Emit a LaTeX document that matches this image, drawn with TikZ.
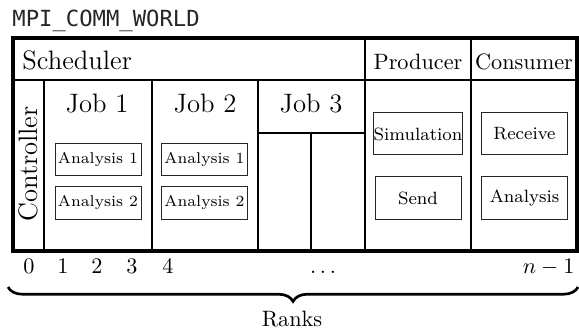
\documentclass[tikz,border=0pt]{standalone}
\usepackage{fontspec}
\newfontfamily\commfont{DejaVu Sans Mono}
\usetikzlibrary{decorations.pathreplacing}

\tikzset{
  outer/.style={line width=1.7pt},
  group/.style={line width=1.3pt},
  part/.style={line width=0.9pt},
  inner/.style={line width=0.5pt},
  task/.style={draw=black!85, line width=0.45pt, fill=white,
               minimum width=86*0.45pt, inner sep=0pt, align=center},
  smalltask/.style={task, minimum height=32*0.45pt, font=\scriptsize},
  bigtask/.style={task, minimum height=42*0.45pt, font=\footnotesize},
  rank/.style={anchor=base, inner sep=0pt},
}

\begin{document}
\begin{tikzpicture}[x=0.45pt, y=-0.45pt]
  \useasboundingbox (0,0) rectangle (579,331);

  % communicator name
  \node[anchor=base west, inner sep=0pt, font=\commfont, text=black!85] (comm) at (12,27) {MPI\_COMM\_WORLD};

  % internal dividers
  \draw[inner] (13,80) -- (577,80);
  \draw[part] (44,80) -- (44,251);
  \draw[part] (152,80) -- (152,251);
  \draw[part] (258,80) -- (258,251);
  \draw[inner] (258,133) -- (365,133);
  \draw[inner] (311,133) -- (311,251);
  \draw[group] (365,38) -- (365,251);
  \draw[group] (471,38) -- (471,251);

  % outer frame
  \draw[outer] (13,38) rectangle (577,251);

  % headings
  \node[anchor=base west, inner sep=0pt, font=\large] (sched) at (22,70) {Scheduler};
  \node[anchor=base, inner sep=0pt] (prod) at (418,70) {Producer};
  \node[anchor=base, inner sep=0pt] (cons) at (524,70) {Consumer};
  \node[rotate=90, inner sep=0pt, font=\large] (ctrl) at (28.5,164) {Controller};
  \node[anchor=base, inner sep=0pt, font=\large] (job1) at (97,113) {Job 1};
  \node[anchor=base, inner sep=0pt, font=\large] (job2) at (205,113) {Job 2};
  \node[anchor=base, inner sep=0pt, font=\large] (job3) at (311,113) {Job 3};

  % tasks
  \node[smalltask] (a11) at (98,160) {Analysis 1};
  \node[smalltask] (a12) at (98,203) {Analysis 2};
  \node[smalltask] (a21) at (204.5,160) {Analysis 1};
  \node[smalltask] (a22) at (204.5,203) {Analysis 2};
  \node[bigtask] (sim) at (418,134) {Simulation};
  \node[bigtask] (send) at (418,198) {Send};
  \node[bigtask] (recv) at (524.5,134) {Receive};
  \node[bigtask] (ana) at (524.5,198) {Analysis};

  % rank numbers
  \node[rank] (r0) at (29,273) {0};
  \node[rank] (r1) at (63,273) {1};
  \node[rank] (r2) at (97,273) {2};
  \node[rank] (r3) at (132,273) {3};
  \node[rank] (r4) at (168,273) {4};
  \node[rank] (rdots) at (323,273) {$\dots$};
  \node[anchor=base east, inner sep=0pt] (rlast) at (575,273) {$n-1$};

  % brace over all ranks
  \coordinate (bl) at (8,287);
  \coordinate (br) at (578,287);
  \draw[line width=1.2pt, decorate, decoration={brace, mirror, amplitude=6.5pt}] (bl) -- (br);
  \node[anchor=base, inner sep=0pt] (ranks) at (292,326) {Ranks};
\end{tikzpicture}
\end{document}
